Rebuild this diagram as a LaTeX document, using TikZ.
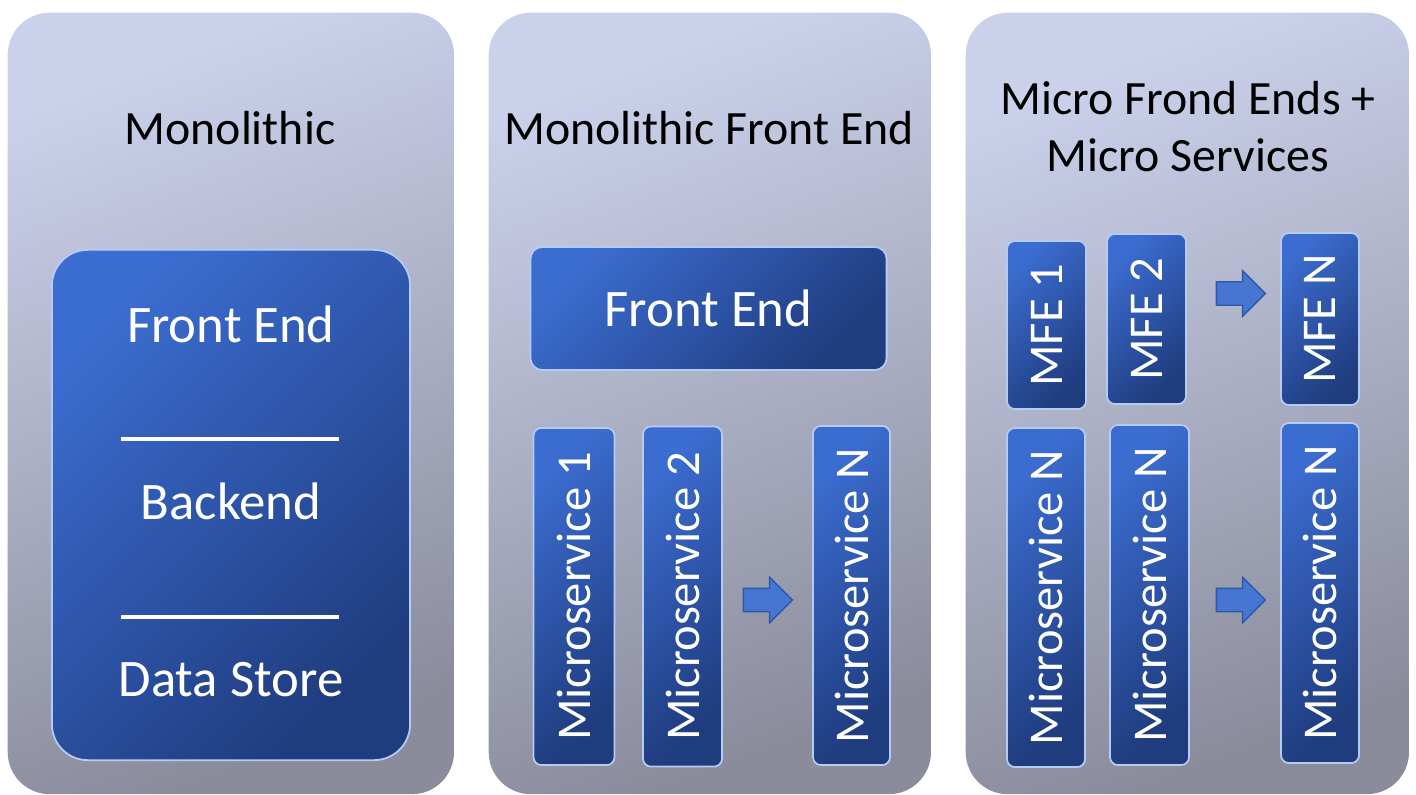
\documentclass[tikz,border=0pt]{standalone}
\usepackage{fontspec}
\setmainfont{Carlito}
\usepackage{xcolor}
\usepackage{tikz}
\usetikzlibrary{shapes.arrows}

\definecolor{panelTop}{HTML}{CBD1EB}
\definecolor{panelBot}{HTML}{8A8C9C}
\definecolor{boxTop}{HTML}{3B6CCF}
\definecolor{boxBot}{HTML}{1F3C7E}
\definecolor{boxEdge}{HTML}{B4CCF2}
\definecolor{arrowFill}{HTML}{4675D2}
\definecolor{arrowEdge}{HTML}{2D58A8}

\tikzset{
  panel/.style={rounded corners=0.42cm, top color=panelTop, bottom color=panelBot, shading angle=20, anchor=north west, inner sep=0pt},
  bluebox/.style={rounded corners=0.12cm, top color=boxTop, bottom color=boxBot, shading angle=45, draw=boxEdge, line width=0.5pt, text=white, inner sep=0pt, font=\fontsize{15}{18}\selectfont},
  vbox/.style={bluebox, rotate=90, rounded corners=0.08cm, font=\fontsize{13.8}{16}\selectfont},
  heading/.style={font=\fontsize{13.6}{16}\selectfont, anchor=base},
  whitelabel/.style={text=white, font=\fontsize{15}{18}\selectfont, anchor=base},
  sepline/.style={white, line width=1.3pt},
  fatarrow/.style={single arrow, fill=arrowFill, draw=arrowEdge, line width=0.4pt, minimum height=0.49cm, minimum width=0.44cm, single arrow head extend=0.11cm, inner sep=0.11cm},
}

\begin{document}
\begin{tikzpicture}[x=0.01cm, y=-0.01cm]
    \useasboundingbox[fill=white] (0,0) rectangle (1416,794);

    % three columns
    \node[panel, minimum width=4.46cm, minimum height=7.81cm] (monoPanel) at (7,12) {};
    \node[panel, minimum width=4.42cm, minimum height=7.81cm] (mfePanel) at (488,12) {};
    \node[panel, minimum width=4.43cm, minimum height=7.81cm] (microPanel) at (965,12) {};

    % titles
    \node[heading] (monoTitle) at (230,145) {Monolithic};
    \node[heading] (mfeTitle) at (709,145) {Monolithic Front End};
    \node[heading] (microTitleA) at (1188,115) {Micro Frond Ends +};
    \node[heading] (microTitleB) at (1188,172) {Micro Services};

    % monolithic stack
    \node[bluebox, rounded corners=0.36cm, minimum width=3.58cm, minimum height=5.10cm] (stack) at (231,505) {};
    \node[whitelabel] (feLabel) at (231,342) {Front End};
    \draw[sepline] (121,439) -- (339,439);
    \node[whitelabel] (beLabel) at (231,519) {Backend};
    \draw[sepline] (121,617) -- (339,617);
    \node[whitelabel] (dsLabel) at (231,696) {Data Store};

    % monolithic front end + microservices
    \node[bluebox, minimum width=3.56cm, minimum height=1.23cm] (frontEnd) at (708.5,308.5) {Front End};
    \node[vbox, minimum width=3.37cm, minimum height=0.81cm] (msOne) at (574,596.5) {Microservice 1};
    \node[vbox, minimum width=3.40cm, minimum height=0.79cm] (msTwo) at (682.5,596.5) {Microservice 2};
    \node[vbox, minimum width=3.39cm, minimum height=0.77cm] (msN) at (851.5,595.5) {Microservice N};
    \node[fatarrow] (msArrow) at (762,600) {};

    % micro front ends
    \node[vbox, minimum width=1.68cm, minimum height=0.79cm] (mfeOne) at (1046.5,325) {MFE 1};
    \node[vbox, minimum width=1.70cm, minimum height=0.79cm] (mfeTwo) at (1146.5,319) {MFE 2};
    \node[vbox, minimum width=1.72cm, minimum height=0.78cm] (mfeN) at (1320,319) {MFE N};
    \node[fatarrow] (mfeArrow) at (1235,293.5) {};

    % micro services
    \node[vbox, minimum width=3.39cm, minimum height=0.78cm] (svcOne) at (1046,597.5) {Microservice N};
    \node[vbox, minimum width=3.40cm, minimum height=0.79cm] (svcTwo) at (1149.5,595) {Microservice N};
    \node[vbox, minimum width=3.40cm, minimum height=0.78cm] (svcN) at (1320,593) {Microservice N};
    \node[fatarrow] (svcArrow) at (1235,600) {};
\end{tikzpicture}
\end{document}
